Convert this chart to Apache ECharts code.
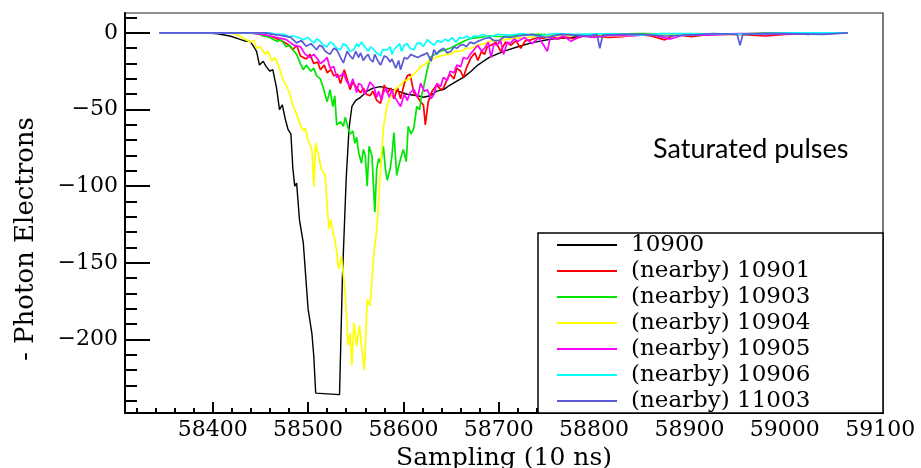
<!DOCTYPE html>
<html>
<head>
<meta charset="utf-8">
<script src="https://cdn.jsdelivr.net/npm/echarts@6/dist/echarts.min.js"></script>
<style>
html, body { margin: 0; padding: 0; background: #fff; }
#main { width: 921px; height: 468px; }
</style>
</head>
<body>
<div id="main"></div>
<script>
// legend names, in drawing order
var seriesNames = ['10900', '(nearby) 10901', '(nearby) 10903', '(nearby) 10904',
                   '(nearby) 10905', '(nearby) 10906', '(nearby) 11003'];
var seriesColors = ['#000000', '#ff0000', '#00e600', '#ffff00', '#ff00ff', '#00ffff', '#5a5ad8'];

// tick labels
var xTicks = [58400, 58500, 58600, 58700, 58800, 58900, 59000, 59100];
var yTicks = [0, -50, -100, -150, -200];

// pulses: [sample, - photon electrons]
var pulse10900 = [[58344,0],[58392,0],[58405,-0.5],[58418,-2],[58428,-4],[58435,-5.5],[58439,-5.5],[58442,-8],[58446,-12],[58449,-21],[58453,-18.5],[58456,-22],[58460,-25],[58463,-24],[58467,-36],[58470,-50],[58473,-47],[58476,-56],[58479,-63],[58482,-66],[58484,-88],[58486,-100],[58488,-98],[58491,-122],[58495,-137],[58500,-180],[58504,-196],[58506,-211],[58508,-235],[58510,-236],[58533,-236],[58536,-160],[58540,-95],[58543,-62],[58546,-48],[58550,-44],[58555,-42],[58562,-38],[58568,-36],[58576,-35],[58583,-36],[58594,-38],[58604,-40],[58615,-41],[58621,-42],[58628,-41],[58635,-38],[58642,-37],[58649,-34],[58656,-31.5],[58663,-29],[58671,-25],[58678,-21],[58690,-16],[58705,-12],[58720,-9],[58734,-6.5],[58755,-4],[58776,-3],[58800,-1.5],[58850,-1],[58900,-0.5],[58950,-0.5],[59000,0],[59025,-1],[59035,0],[59066,0]];

var pulse10901 = [[58344,0],[58440,0],[58452,-1],[58460,-2],[58468,-4],[58475,-6],[58480,-8],[58484,-11],[58488,-8],[58492,-15],[58498,-17],[58502,-14],[58506,-20],[58510,-19],[58513,-24],[58517,-21],[58520,-26],[58524,-24],[58527,-28],[58531,-27],[58534,-33],[58538,-24],[58541,-30],[58544,-37],[58547,-32],[58550,-35],[58555,-39],[58558,-36],[58561,-40],[58565,-41],[58568,-38],[58572,-44],[58576,-46],[58580,-34],[58583,-39],[58587,-36],[58590,-43],[58594,-36],[58597,-43],[58601,-33],[58604,-28],[58607,-27],[58611,-39],[58615,-42],[58618,-45],[58621,-47],[58623,-60],[58626,-45],[58630,-38],[58635,-34],[58639,-37],[58642,-36],[58646,-30],[58649,-27],[58653,-30],[58656,-23],[58660,-25],[58663,-29],[58666,-23],[58671,-16],[58675,-13],[58678,-18],[58682,-12],[58685,-14],[58688,-9],[58692,-8],[58697,-6],[58702,-12],[58707,-6],[58713,-8],[58718,-5],[58723,-10],[58728,-5],[58734,-4.5],[58740,-3],[58747,-3.5],[58755,-2],[58762,-4],[58770,-2.5],[58780,-4],[58790,-1.5],[58800,-2],[58815,-3],[58830,-2.5],[58845,-1],[58860,-2],[58874,-4.5],[58885,-1],[58902,-2.5],[58920,-1],[58950,-1],[58980,-2],[59000,-1],[59030,-0.5],[59066,0]];

var pulse10903 = [[58344,0],[58445,0],[58453,-2],[58460,-3],[58467,-5.5],[58472,-4.5],[58477,-9],[58481,-8],[58484,-11],[58488,-14],[58492,-20],[58495,-24],[58498,-21],[58503,-25],[58506,-23],[58509,-28],[58513,-30],[58516,-36],[58520,-45],[58523,-37],[58526,-48],[58528,-41],[58530,-60],[58534,-58],[58537,-61],[58539,-55],[58542,-62],[58544,-66],[58547,-64],[58549,-72],[58551,-68],[58553,-78],[58556,-85],[58558,-76],[58560,-80],[58562,-100],[58564,-74],[58567,-80],[58570,-117],[58572,-89],[58574,-82],[58576,-85],[58579,-74],[58581,-88],[58583,-96],[58586,-89],[58588,-80],[58590,-65],[58593,-93],[58595,-87],[58598,-80],[58600,-76],[58603,-84],[58605,-61],[58608,-66],[58611,-62],[58614,-48],[58617,-50],[58619,-41],[58621,-36],[58623,-30],[58625,-24],[58628,-16],[58633,-14],[58639,-12],[58644,-11],[58649,-10],[58655,-8],[58660,-6.5],[58665,-5],[58671,-3.5],[58680,-3],[58690,-2],[58705,-2.5],[58720,-1.5],[58740,-1],[58770,-1.5],[58800,-1],[58850,-0.5],[58920,-1],[58980,-0.5],[59066,0]];

var pulse10904 = [[58344,0],[58418,0],[58425,-1],[58432,-3.3],[58439,-6],[58443,-5],[58446,-10],[58450,-9],[58455,-14],[58458,-12],[58462,-18.5],[58465,-16],[58470,-23],[58474,-31],[58477,-34],[58481,-40],[58484,-47],[58488,-53],[58492,-60],[58495,-64],[58497,-62],[58500,-70],[58504,-76],[58506,-100],[58508,-72],[58511,-80],[58514,-89],[58518,-93],[58520,-113],[58522,-128],[58524,-122],[58526,-130],[58528,-135],[58530,-142],[58532,-154],[58535,-146],[58537,-158],[58539,-170],[58542,-204],[58544,-196],[58546,-217],[58548,-189],[58551,-204],[58554,-191],[58556,-204],[58559,-220],[58562,-174],[58565,-178],[58569,-144],[58572,-128],[58574,-110],[58576,-89],[58579,-62],[58583,-47],[58586,-42],[58590,-38],[58593,-36],[58597,-34],[58601,-31],[58604,-31],[58609,-28],[58614,-25],[58618,-22],[58621,-21],[58628,-18],[58634,-16],[58639,-15],[58645,-14],[58649,-14],[58655,-12],[58660,-12],[58666,-10],[58671,-10],[58678,-8],[58685,-7],[58692,-5],[58700,-5],[58715,-3.5],[58730,-3],[58745,-2],[58760,-2],[58780,-1.5],[58800,-1],[58830,-2],[58860,-1],[58890,-1.5],[58900,-0.5],[58950,-1],[59000,-0.5],[59066,0]];

var pulse10905 = [[58344,0],[58440,0],[58452,-1],[58460,-2],[58468,-3],[58477,-4.4],[58485,-8],[58492,-9],[58497,-14],[58502,-16],[58506,-14],[58510,-17],[58513,-20],[58517,-18],[58520,-16],[58523,-23],[58527,-22],[58530,-29],[58534,-28],[58537,-26],[58540,-31],[58544,-35],[58547,-30],[58551,-39],[58553,-33],[58556,-34],[58559,-40],[58562,-37],[58565,-32],[58569,-35],[58572,-42],[58574,-38],[58577,-44],[58579,-39],[58582,-36],[58585,-42],[58588,-37],[58590,-41],[58594,-45],[58597,-48],[58601,-40],[58604,-44],[58607,-39],[58611,-37],[58615,-42],[58618,-33],[58622,-38],[58625,-37],[58629,-43],[58632,-40],[58635,-33],[58639,-35],[58642,-29],[58646,-31],[58649,-25],[58653,-26],[58656,-21],[58660,-22],[58663,-16],[58667,-17],[58670,-14],[58674,-11],[58678,-8],[58682,-12],[58685,-10],[58689,-6],[58692,-16],[58695,-7],[58698,-8],[58702,-5],[58705,-14],[58709,-6],[58712,-7],[58716,-4],[58720,-5.5],[58727,-3],[58735,-7],[58742,-3],[58751,-12],[58754,-3],[58760,-4],[58768,-2],[58776,-5.5],[58785,-2],[58800,-3],[58815,-1.5],[58840,-2],[58860,-1],[58880,-4],[58895,-1],[58920,-1.5],[58950,-0.5],[58980,-1],[59020,-0.5],[59066,0]];

var pulse10906 = [[58344,0],[58460,0],[58467,-1],[58475,-1],[58480,-2.5],[58484,-2],[58490,-3],[58495,-4.4],[58500,-3],[58503,-5],[58506,-6.5],[58509,-4],[58512,-5],[58516,-8],[58520,-9],[58523,-6],[58526,-7],[58530,-10],[58534,-11],[58537,-7],[58540,-8],[58544,-12],[58548,-11],[58551,-7],[58553,-9],[58556,-6],[58558,-8],[58561,-10],[58563,-12],[58566,-9],[58569,-11],[58572,-13],[58576,-15],[58578,-11],[58580,-10],[58583,-11],[58586,-9],[58588,-14],[58590,-11],[58593,-9],[58596,-7],[58598,-12],[58601,-8],[58604,-7],[58607,-10],[58611,-11],[58614,-7],[58618,-6.5],[58621,-9],[58625,-4.4],[58628,-6],[58632,-8],[58636,-5],[58640,-6],[58644,-4],[58647,-5.5],[58651,-3],[58655,-6],[58659,-3],[58663,-3.3],[58667,-2],[58670,-4],[58674,-2],[58678,-2.2],[58684,-1],[58690,-3],[58698,-1],[58710,-1.5],[58725,-0.5],[58740,-2],[58760,-0.5],[58780,-1],[58820,-0.5],[58850,-1.5],[58870,-0.5],[58900,-0.5],[58960,-1],[59000,0],[59066,0]];

var pulse11003 = [[58344,0],[58455,0],[58463,-1],[58470,-1.5],[58477,-2.2],[58482,-3],[58488,-6.5],[58493,-5],[58498,-8.7],[58503,-7],[58509,-11],[58512,-8],[58515,-9],[58518,-12],[58520,-13],[58523,-14],[58527,-10],[58530,-11],[58534,-16],[58537,-19.6],[58541,-12],[58544,-15],[58547,-17],[58550,-12],[58553,-16],[58555,-13],[58558,-18],[58560,-16],[58563,-14],[58565,-17],[58568,-19],[58570,-14],[58573,-18],[58576,-21],[58580,-15],[58583,-16],[58586,-19],[58588,-17],[58590,-20],[58592,-23],[58595,-18],[58597,-24],[58601,-16],[58604,-17],[58608,-14],[58611,-15],[58615,-16],[58618,-15],[58622,-14],[58625,-13],[58629,-18.5],[58632,-11],[58635,-14],[58637,-12],[58642,-10],[58646,-13],[58650,-12],[58653,-9],[58656,-10],[58660,-8],[58663,-7.6],[58666,-9],[58670,-6],[58674,-7],[58678,-5.5],[58684,-4],[58690,-3],[58695,-5],[58700,-5],[58706,-2.5],[58712,-3],[58720,-2],[58735,-1],[58750,-3],[58765,-1],[58780,-1.5],[58795,-2],[58803,-1],[58806,-10],[58809,-1.5],[58830,-1],[58850,-1],[58875,-2],[58900,-1.5],[58925,-0.5],[58950,-1],[58953,-8],[58956,-1],[58980,-0.5],[59000,-0.5],[59040,-1],[59066,0]];

var pulses = [pulse10900, pulse10901, pulse10903, pulse10904, pulse10905, pulse10906, pulse11003];

// minor ticks, ROOT style: 5 subdivisions
var xMinor = [];
for (var i = 0; i < 40; i++) xMinor.push(58320 + i * 20);
var yMinor = [];
for (var j = 0; j < 26; j++) yMinor.push(-240 + j * 10);

var serif = 'DejaVu Serif';
var chart = echarts.init(document.getElementById('main'));

var series = [];
for (var k = 0; k < pulses.length; k++) {
    series.push({
        name: seriesNames[k],
        type: 'line',
        data: pulses[k],
        showSymbol: false,
        symbol: 'none',
        z: 2,
        lineStyle: { color: seriesColors[k], width: k === 0 ? 1.4 : 1.7 },
        itemStyle: { color: seriesColors[k] }
    });
}

var option = {
    animation: false,
    backgroundColor: '#fff',
    grid: {
        left: 125, right: 38, top: 13, bottom: 55,
        outerBoundsMode: 'none', containLabel: false,
        show: true, borderColor: '#222', borderWidth: 1.2
    },
    legend: {
        orient: 'vertical',
        left: 552,
        top: 227,
        z: 60,
        icon: 'rect',
        itemWidth: 60,
        itemHeight: 2,
        itemGap: 0,
        data: seriesNames,
        textStyle: { fontFamily: serif, fontSize: 23, lineHeight: 26, color: '#000', padding: [0, 0, 0, 9] }
    },
    xAxis: [{
        type: 'value',
        min: 58308,
        max: 59103,
        name: 'Sampling (10 ns)',
        nameLocation: 'middle',
        nameGap: 23,
        nameTextStyle: { fontFamily: serif, fontSize: 25, color: '#000' },
        axisLine: { onZero: false, lineStyle: { color: '#000', width: 2 } },
        axisTick: { inside: true, length: 11, customValues: xTicks, lineStyle: { color: '#000', width: 2 } },
        axisLabel: {
            customValues: xTicks, fontFamily: serif, fontSize: 22, color: '#000', margin: 6,
            formatter: function (v) { return String(v); }
        },
        splitLine: { show: false }
    }, {
        // minor ticks; a top axis pushed down onto the bottom edge
        type: 'value',
        position: 'top',
        offset: -400,
        min: 58308,
        max: 59103,
        axisLine: { show: false, onZero: false },
        axisTick: { inside: false, length: 5, customValues: xMinor, lineStyle: { color: '#000', width: 2 } },
        axisLabel: { show: false },
        splitLine: { show: false }
    }],
    yAxis: [{
        type: 'value',
        min: -248,
        max: 13,
        name: '- Photon Electrons',
        nameLocation: 'middle',
        nameRotate: 90,
        nameGap: 86,
        nameTextStyle: { fontFamily: serif, fontSize: 26, color: '#000', padding: [0, 52, 0, 0] },
        axisLine: { onZero: false, lineStyle: { color: '#000', width: 2 } },
        axisTick: { inside: true, length: 25, customValues: yTicks, lineStyle: { color: '#000', width: 2 } },
        axisLabel: {
            customValues: yTicks,
            fontFamily: serif,
            fontSize: 22,
            color: '#000',
            margin: 7,
            formatter: function (v) { return v < 0 ? '\u2212' + Math.abs(v) : String(v); }
        },
        splitLine: { show: false }
    }, {
        type: 'value',
        position: 'left',
        min: -248,
        max: 13,
        axisLine: { show: false, onZero: false },
        axisTick: { inside: true, length: 12, customValues: yMinor, lineStyle: { color: '#000', width: 2 } },
        axisLabel: { show: false },
        splitLine: { show: false }
    }],
    graphic: [{
        type: 'rect',
        z: 50,
        shape: { x: 538, y: 233, width: 345, height: 180 },
        style: { fill: '#fff', stroke: '#000', lineWidth: 1.5 }
    }, {
        type: 'text',
        z: 50,
        left: 653,
        top: 136,
        style: { text: 'Saturated pulses', font: '27px Lato', fill: '#000' }
    }],
    series: series
};

chart.setOption(option);
</script>
</body>
</html>
